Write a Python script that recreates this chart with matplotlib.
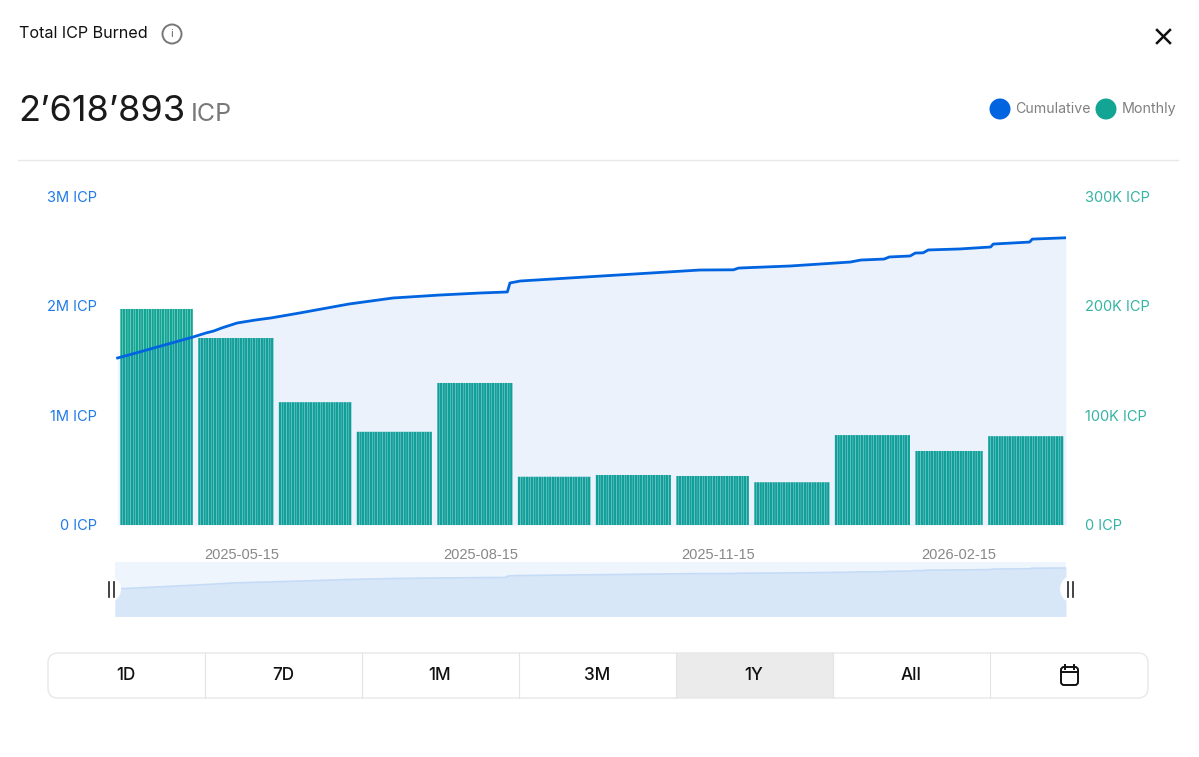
import matplotlib

matplotlib.use("Agg")
import matplotlib.pyplot as plt
from matplotlib.patches import Circle, FancyBboxPatch, Rectangle

plt.rcParams["font.family"] = ["Inter", "DejaVu Sans"]

BLUE = "#0064E0"
TEAL = "#12A594"

# Monthly burn (K ICP), Apr 2025 .. Mar 2026
MONTH_DAYS = [30, 31, 30, 31, 31, 30, 31, 30, 31, 31, 28, 31]
MONTHLY = [197, 170.5, 112, 85, 129.5, 44, 45.6, 44.7, 39, 82, 67.5, 81]

# Cumulative burn (M ICP), read at these day offsets
CUM_DAYS = [1, 8, 19, 30, 35, 38, 41, 47, 54, 60, 71, 90, 107, 125, 140, 151, 152, 156, 187,
            225, 238, 240, 260, 283, 287, 296, 298, 306, 308, 311, 313, 325, 337, 338, 352, 353, 366]
CUM_VALUES = [1.523, 1.568, 1.641, 1.714, 1.751, 1.769, 1.796, 1.842, 1.869, 1.888, 1.933, 2.015,
              2.070, 2.097, 2.115, 2.125, 2.207, 2.225, 2.270, 2.325, 2.327, 2.343, 2.362, 2.398,
              2.416, 2.425, 2.444, 2.453, 2.480, 2.482, 2.508, 2.517, 2.535, 2.562, 2.580, 2.607, 2.619]

TICK_DAYS = [48.6, 140.6, 232, 324.6]
TICK_LABELS = ["2025-05-15", "2025-08-15", "2025-11-15", "2026-02-15"]
LEFT_TICKS = [0, 1, 2, 3]
LEFT_LABELS = ["0 ICP", "1M ICP", "2M ICP", "3M ICP"]
RIGHT_TICKS = [0, 100, 200, 300]
RIGHT_LABELS = ["0 ICP", "100K ICP", "200K ICP", "300K ICP"]
RANGES = ["1D", "7D", "1M", "3M", "1Y", "All"]

W, H = 1199, 757


def px_axes(x0, y0, x1, y1):
    # axes from pixel box (y measured from the top)
    return fig.add_axes([x0 / W, 1 - y1 / H, (x1 - x0) / W, (y1 - y0) / H])


fig = plt.figure(figsize=(W / 100, H / 100), dpi=100, facecolor="white")

# bars sit under the area and the line
ax_bar = px_axes(115, 196, 1066, 525)
ax_bar.set_xlim(0, 366)
ax_bar.set_ylim(0, 300)
start = 1
for days, value in zip(MONTH_DAYS, MONTHLY):
    xs = [start + d + 0.5 for d in range(1, days - 1)]
    ax_bar.bar(xs, [value] * len(xs), width=0.9, color=TEAL, linewidth=0, snap=False)
    start += days
ax_bar.set_xticks(TICK_DAYS, TICK_LABELS, color="#888888", fontsize=10.5, family="Liberation Sans")
ax_bar.tick_params(axis="x", length=0, pad=16.5)
for s in ax_bar.spines.values():
    s.set_visible(False)

ax_line = ax_bar.twinx()
ax_line.set_ylim(0, 3)
ax_line.fill_between(CUM_DAYS, CUM_VALUES, color=BLUE, alpha=0.08, linewidth=0)
ax_line.plot(CUM_DAYS, CUM_VALUES, color=BLUE, lw=2, solid_joinstyle="round")
ax_line.yaxis.tick_left()
ax_line.set_yticks(LEFT_TICKS, LEFT_LABELS, color="#1F7BE8", fontsize=10.5)
ax_line.tick_params(axis="y", length=0, pad=13)
for s in ax_line.spines.values():
    s.set_visible(False)

# twinx flips the ticks, so the right axis is set up after it
ax_bar.yaxis.tick_right()
ax_bar.set_yticks(RIGHT_TICKS, RIGHT_LABELS, color="#35B3A3", fontsize=10.5, ha="left")
ax_bar.tick_params(axis="y", length=0, pad=13.5)

# range slider preview
ax_mini = px_axes(115, 562, 1066, 616)
ax_mini.set_xlim(1, 366)
ax_mini.set_ylim(0.114, 2.932)
ax_mini.set_facecolor("#EEF5FD")
ax_mini.fill_between(CUM_DAYS, CUM_VALUES, color="#D8E7F8", linewidth=0)
ax_mini.plot(CUM_DAYS, CUM_VALUES, color="#C5DBF6", lw=1.2)
ax_mini.set_xticks([])
ax_mini.set_yticks([])
for s in ax_mini.spines.values():
    s.set_visible(False)

# everything around the chart, in pixel coordinates
ui = fig.add_axes([0, 0, 1, 1], zorder=5)
ui.set_xlim(0, W)
ui.set_ylim(H, 0)
ui.axis("off")
ui.patch.set_alpha(0)

ui.text(19, 33, "Total ICP Burned", fontsize=11.6, color="#111111", va="center")
ui.add_patch(Circle((172, 34), 9.5, fc="none", ec="#777777", lw=1.4))
ui.text(172, 34, "i", fontsize=8, color="#666666", ha="center", va="center")
ui.plot([1157, 1170], [30, 43], color="#111111", lw=1.8)
ui.plot([1157, 1170], [43, 30], color="#111111", lw=1.8)

ui.text(18, 121, "2’618’893", fontsize=26, color="#1A1A1A", va="baseline")
ui.text(191, 121, "ICP", fontsize=18, color="#777777", va="baseline")
ui.add_patch(Circle((1000, 109), 10.5, fc=BLUE, ec="none"))
ui.text(1015.5, 109, "Cumulative", fontsize=10.2, color="#808080", va="center")
ui.add_patch(Circle((1106, 109), 10.5, fc=TEAL, ec="none"))
ui.text(1122, 109, "Monthly", fontsize=10.3, color="#808080", va="center")
ui.plot([18, 1178], [160, 160], color="#E8E8E8", lw=1)

# slider handles
ui.add_patch(Circle((107, 589), 14, fc="white", ec="none"))
ui.add_patch(Circle((1074, 589), 14, fc="white", ec="none"))
for x in [108.5, 113.5, 1068, 1073]:
    ui.plot([x, x], [582, 597], color="#222222", lw=1.2)

# range buttons
ui.add_patch(Rectangle((676, 653), 157, 45, fc="#EBEBEB", ec="none"))
ui.add_patch(FancyBboxPatch((48, 653), 1100, 45, boxstyle="round,pad=0,rounding_size=10",
                            fc="none", ec="#E8E8E8", lw=1))
for i, label in enumerate(RANGES):
    x0 = 48 + i * 157
    ui.text(x0 + 78, 675, label, fontsize=12.3, color="#111111", ha="center", va="center", fontweight="medium")
    ui.plot([x0 + 157, x0 + 157], [653, 698], color="#E4E4E4", lw=0.8)

# calendar icon
ui.add_patch(FancyBboxPatch((1061, 667), 17, 18, boxstyle="round,pad=0,rounding_size=3",
                            fc="none", ec="#111111", lw=1.4))
ui.plot([1061, 1078], [672, 672], color="#111111", lw=1.4)
for x in [1065, 1074]:
    ui.plot([x, x], [665, 669], color="#111111", lw=1.4)

fig.savefig("out.png", dpi=100)
